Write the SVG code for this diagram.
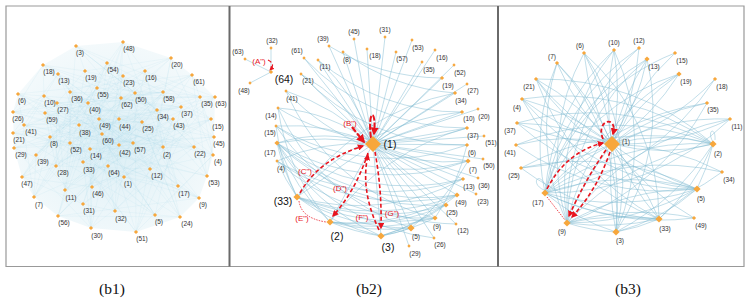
<svg xmlns="http://www.w3.org/2000/svg" width="749" height="301" viewBox="0 0 749 301">
<style>
text{font-family:"Liberation Sans",Arial,sans-serif;font-size:6.5px;fill:#333;text-anchor:middle}
text.big{font-size:10.5px;fill:#111}
text.rl{font-size:8px;fill:#e8141e}
text.cap{font-family:"Liberation Serif","Times New Roman",serif;font-size:15.5px;fill:#111}
use{fill:#f7a73c}
.hz{fill:none;stroke:#9fd0e2;stroke-width:0.4;stroke-opacity:0.28}
.e{fill:none;stroke:#7fbad0;stroke-width:0.8;stroke-opacity:0.6}
.r{fill:none;stroke:#e8141e;stroke-width:1.6;stroke-dasharray:4 2.5}
.rt{fill:none;stroke:#e8141e;stroke-width:0.8;stroke-dasharray:1.5 1.2}
.rk{fill:none;stroke:#e8141e;stroke-width:2.6;stroke-dasharray:6 2}
.fr{fill:none;stroke:#999;stroke-width:1.2}
.sep{stroke:#6a6a6a;stroke-width:2}
</style>
<defs>
<path id="s" d="M0,-2.1l2.1,2.1-2.1,2.1-2.1-2.1z"/>
<path id="xs" d="M0,-1.7l1.7,1.7-1.7,1.7-1.7-1.7z"/>
<path id="m" d="M0,-2.6l2.6,2.6-2.6,2.6-2.6-2.6z"/>
<path id="b" d="M0,-3.6l3.6,3.6-3.6,3.6-3.6-3.6z"/>
<path id="h" d="M0,-8l8,8-8,8-8-8z"/>
<marker id="ar" viewBox="0 0 10 10" refX="8" refY="5" markerWidth="4" markerHeight="4" orient="auto"><path d="M0,0L10,5 0,10z" fill="#e8141e"/></marker>
<radialGradient id="hg" cx="0.5" cy="0.55" r="0.55"><stop offset="0" stop-color="#d6ecf4" stop-opacity="0.9"/><stop offset="1" stop-color="#e8f4f8" stop-opacity="0.5"/></radialGradient>
</defs>
<rect width="749" height="301" fill="#fff"/>
<g id="frame">
<path class="fr" d="M6,6H744V266.5H6Z"/>
<path class="sep" d="M229.5,6V266.5M498,6V266.5"/>
</g>

<!-- b1 -->
<g id="b1-edges">
<polygon points="76,46 123,42 171,58 192,75 215,97 214,137 213,155 207,176 199,198 180,217 136,232 91,228 58,216 34,197 22,177 14,148 13,112 18,94 43,65" fill="url(#hg)"/>
<polyline class="hz" points="124,177 163,147 76,46 213,155 155,215 18,94 34,197 50,137 199,198 44,96 65,190 150,169 58,74 90,149 211,119 145,71 178,186 43,65 85,71 171,58 13,133 194,147 123,76 180,217 142,122 13,112 57,103 56,166 14,148 91,228 83,204 115,211 83,162 157,110 200,97 70,92 181,107 79,125 36,155 88,103 24,125 119,145 173,119 119,119 214,137 92,187 22,177 123,42 99,119 135,93 136,232 70,143 207,176 107,63 97,88 58,216 133,143 163,92 45,113 102,134 192,75 121,98 215,97 108,166"/>
<polyline class="hz" points="124,177 83,162 163,147 157,110 76,46 200,97 213,155 70,92 155,215 181,107 18,94 79,125 34,197 36,155 50,137 88,103 199,198 24,125 44,96 119,145 65,190 173,119 150,169 119,119 58,74 214,137 90,149 92,187 211,119 22,177 145,71 123,42 178,186 99,119 43,65 135,93 85,71 136,232 171,58 70,143 13,133 207,176 194,147 107,63 123,76 97,88 180,217 58,216 142,122 133,143 13,112 163,92 57,103 45,113 56,166 102,134 14,148 192,75 91,228 121,98 83,204 215,97 115,211 108,166"/>
<polyline class="hz" points="124,177 178,186 83,162 99,119 163,147 43,65 157,110 135,93 76,46 85,71 200,97 136,232 213,155 171,58 70,92 70,143 155,215 13,133 181,107 207,176 18,94 194,147 79,125 107,63 34,197 123,76 36,155 97,88 50,137 180,217 88,103 58,216 199,198 142,122 24,125 133,143 44,96 13,112 119,145 163,92 65,190 57,103 173,119 45,113 150,169 56,166 119,119 102,134 58,74 14,148 214,137 192,75 90,149 91,228 92,187 121,98 211,119 83,204 22,177 215,97 145,71 115,211 123,42 108,166"/>
<polyline class="hz" points="124,177 199,198 178,186 142,122 83,162 24,125 99,119 133,143 163,147 44,96 43,65 13,112 157,110 119,145 135,93 163,92 76,46 65,190 85,71 57,103 200,97 173,119 136,232 45,113 213,155 150,169 171,58 56,166 70,92 119,119 70,143 102,134 155,215 58,74 13,133 14,148 181,107 214,137 207,176 192,75 18,94 90,149 194,147 91,228 79,125 92,187 107,63 121,98 34,197 211,119 123,76 83,204 36,155 22,177 97,88 215,97 50,137 145,71 180,217 115,211 88,103 123,42 58,216 108,166"/>
</g>
<g id="b1-nodes">
<g id="b1-n1"><use href="#s" x="124" y="177"/><text x="128" y="186.3">(1)</text></g>
<g id="b1-n2"><use href="#s" x="163" y="147"/><text x="167" y="157.3">(2)</text></g>
<g id="b1-n3"><use href="#s" x="76" y="46"/><text x="80" y="55.3">(3)</text></g>
<g id="b1-n4"><use href="#s" x="213" y="155"/><text x="218" y="164.3">(4)</text></g>
<g id="b1-n5"><use href="#s" x="155" y="215"/><text x="159" y="224.3">(5)</text></g>
<g id="b1-n6"><use href="#s" x="18" y="94"/><text x="22" y="103.3">(6)</text></g>
<g id="b1-n7"><use href="#s" x="34" y="197"/><text x="39" y="207.3">(7)</text></g>
<g id="b1-n8"><use href="#s" x="50" y="137"/><text x="54" y="146.3">(8)</text></g>
<g id="b1-n9"><use href="#s" x="199" y="198"/><text x="203" y="207.3">(9)</text></g>
<g id="b1-n10"><use href="#s" x="44" y="96"/><text x="50" y="105.3">(10)</text></g>
<g id="b1-n11"><use href="#s" x="65" y="190"/><text x="71" y="200.3">(11)</text></g>
<g id="b1-n12"><use href="#s" x="150" y="169"/><text x="157" y="178.3">(12)</text></g>
<g id="b1-n13"><use href="#s" x="58" y="74"/><text x="64" y="83.3">(13)</text></g>
<g id="b1-n14"><use href="#s" x="90" y="149"/><text x="96" y="158.3">(14)</text></g>
<g id="b1-n15"><use href="#s" x="211" y="119"/><text x="218" y="129.3">(15)</text></g>
<g id="b1-n16"><use href="#s" x="145" y="71"/><text x="151" y="80.3">(16)</text></g>
<g id="b1-n17"><use href="#s" x="178" y="186"/><text x="184" y="196.3">(17)</text></g>
<g id="b1-n18"><use href="#s" x="43" y="65"/><text x="49" y="74.3">(18)</text></g>
<g id="b1-n19"><use href="#s" x="85" y="71"/><text x="91" y="80.3">(19)</text></g>
<g id="b1-n20"><use href="#s" x="171" y="58"/><text x="177" y="67.3">(20)</text></g>
<g id="b1-n21"><use href="#s" x="13" y="133"/><text x="19" y="142.3">(21)</text></g>
<g id="b1-n22"><use href="#s" x="194" y="147"/><text x="200" y="156.3">(22)</text></g>
<g id="b1-n23"><use href="#s" x="123" y="76"/><text x="129" y="85.3">(23)</text></g>
<g id="b1-n24"><use href="#s" x="180" y="217"/><text x="187" y="226.3">(24)</text></g>
<g id="b1-n25"><use href="#s" x="142" y="122"/><text x="148" y="131.3">(25)</text></g>
<g id="b1-n26"><use href="#s" x="13" y="112"/><text x="18" y="121.3">(26)</text></g>
<g id="b1-n27"><use href="#s" x="57" y="103"/><text x="63" y="112.3">(27)</text></g>
<g id="b1-n28"><use href="#s" x="56" y="166"/><text x="63" y="175.3">(28)</text></g>
<g id="b1-n29"><use href="#s" x="14" y="148"/><text x="21" y="157.3">(29)</text></g>
<g id="b1-n30"><use href="#s" x="91" y="228"/><text x="97" y="238.3">(30)</text></g>
<g id="b1-n31"><use href="#s" x="83" y="204"/><text x="89" y="213.3">(31)</text></g>
<g id="b1-n32"><use href="#s" x="115" y="211"/><text x="121" y="221.3">(32)</text></g>
<g id="b1-n33"><use href="#s" x="83" y="162"/><text x="89" y="172.3">(33)</text></g>
<g id="b1-n34"><use href="#s" x="157" y="110"/><text x="163" y="119.3">(34)</text></g>
<g id="b1-n35"><use href="#s" x="200" y="97"/><text x="207" y="106.3">(35)</text></g>
<g id="b1-n36"><use href="#s" x="70" y="92"/><text x="77" y="101.3">(36)</text></g>
<g id="b1-n37"><use href="#s" x="181" y="107"/><text x="187" y="116.3">(37)</text></g>
<g id="b1-n38"><use href="#s" x="79" y="125"/><text x="85" y="135.3">(38)</text></g>
<g id="b1-n39"><use href="#s" x="36" y="155"/><text x="43" y="164.3">(39)</text></g>
<g id="b1-n40"><use href="#s" x="88" y="103"/><text x="95" y="112.3">(40)</text></g>
<g id="b1-n41"><use href="#s" x="24" y="125"/><text x="31" y="134.3">(41)</text></g>
<g id="b1-n42"><use href="#s" x="119" y="145"/><text x="125" y="155.3">(42)</text></g>
<g id="b1-n43"><use href="#s" x="173" y="119"/><text x="179" y="128.3">(43)</text></g>
<g id="b1-n44"><use href="#s" x="119" y="119"/><text x="125" y="129.3">(44)</text></g>
<g id="b1-n45"><use href="#s" x="214" y="137"/><text x="219" y="146.3">(45)</text></g>
<g id="b1-n46"><use href="#s" x="92" y="187"/><text x="98" y="196.3">(46)</text></g>
<g id="b1-n47"><use href="#s" x="22" y="177"/><text x="27" y="186.3">(47)</text></g>
<g id="b1-n48"><use href="#s" x="123" y="42"/><text x="129" y="51.3">(48)</text></g>
<g id="b1-n49"><use href="#s" x="99" y="119"/><text x="105" y="128.3">(49)</text></g>
<g id="b1-n50"><use href="#s" x="135" y="93"/><text x="141" y="102.3">(50)</text></g>
<g id="b1-n51"><use href="#s" x="136" y="232"/><text x="142" y="241.3">(51)</text></g>
<g id="b1-n52"><use href="#s" x="70" y="143"/><text x="76" y="152.3">(52)</text></g>
<g id="b1-n53"><use href="#s" x="207" y="176"/><text x="214" y="185.3">(53)</text></g>
<g id="b1-n54"><use href="#s" x="107" y="63"/><text x="113" y="72.3">(54)</text></g>
<g id="b1-n55"><use href="#s" x="97" y="88"/><text x="103" y="97.3">(55)</text></g>
<g id="b1-n56"><use href="#s" x="58" y="216"/><text x="64" y="225.3">(56)</text></g>
<g id="b1-n57"><use href="#s" x="133" y="143"/><text x="140" y="152.3">(57)</text></g>
<g id="b1-n58"><use href="#s" x="163" y="92"/><text x="169" y="101.3">(58)</text></g>
<g id="b1-n59"><use href="#s" x="45" y="113"/><text x="52" y="122.3">(59)</text></g>
<g id="b1-n60"><use href="#s" x="102" y="134"/><text x="108" y="143.3">(60)</text></g>
<g id="b1-n61"><use href="#s" x="192" y="75"/><text x="199" y="84.3">(61)</text></g>
<g id="b1-n62"><use href="#s" x="121" y="98"/><text x="127" y="107.3">(62)</text></g>
<g id="b1-n63"><use href="#s" x="215" y="97"/><text x="221" y="106.3">(63)</text></g>
<g id="b1-n64"><use href="#s" x="108" y="166"/><text x="114" y="175.3">(64)</text></g>
</g>

<!-- b2 -->
<g id="b2-edges">
<path class="e" d="M271,72L245,59M271,72L271,48M271,72L250,83"/>
<path class="e" d="M373,144L304,58M373,144L329,46M373,144L354,39M373,144L318,60M373,144L343,52M373,144L301,74M373,144L367,49M373,144L385,37M373,144L396,52M373,144L412,40M373,144L422,62M373,144L435,50M373,144L442,78M373,144L454,65M373,144L467,84M373,144L455,93M373,144L478,109M373,144L462,112M373,144L467,128M373,144L484,136M373,144L467,145M373,144L483,159M373,144L468,161M373,144L463,179M373,144L478,178M373,144L457,195M373,144L476,194M373,144L446,205M373,144L435,218M373,144L456,224M373,144L411,228M373,144L434,238M373,144L409,246M373,144L381,236M373,144L330,222M373,144L297,197"/>
<path class="e" d="M373,144A220,220 0 0 0 286,91M373,144A180,180 0 0 0 278,108M373,144A200,200 0 0 0 276,126M373,144A160,160 0 0 0 277,143M373,144A260,260 0 0 0 277,143M373,144A200,200 0 0 0 277,161M373,144A200,200 0 0 0 301,74M373,144A200,200 0 0 0 318,60"/>
<path class="e" d="M278,108A220,220 0 0 0 467,128M276,126A220,220 0 0 0 467,145M276,126A220,220 0 0 0 468,161M277,143A220,220 0 0 0 468,161M277,143A220,220 0 0 0 463,179M277,143A220,220 0 0 0 457,195M277,143A220,220 0 0 0 446,205M277,161A220,220 0 0 0 463,179M277,161A220,220 0 0 0 457,195M277,161A220,220 0 0 0 435,218M297,197A220,220 0 0 0 446,205M297,197A220,220 0 0 0 435,218M297,197A220,220 0 0 0 411,228M297,197A220,220 0 0 0 457,195M297,197A220,220 0 0 0 463,179M297,197A220,220 0 0 0 381,236M330,222A220,220 0 0 0 435,218M330,222A220,220 0 0 0 411,228M330,222A220,220 0 0 0 446,205M330,222A220,220 0 0 0 457,195M330,222A220,220 0 0 0 381,236M381,236A220,220 0 0 0 411,228M381,236A220,220 0 0 0 435,218M381,236A220,220 0 0 0 446,205M381,236A220,220 0 0 0 457,195M277,143A220,220 0 0 0 381,236M277,143A220,220 0 0 0 330,222M277,143A220,220 0 0 0 297,197M277,161A220,220 0 0 0 297,197M276,126A220,220 0 0 0 297,197M278,108A220,220 0 0 0 330,222M286,91A220,220 0 0 0 468,161M301,74A220,220 0 0 0 467,145M304,58A220,220 0 0 0 467,128M318,60A220,220 0 0 0 462,112M343,52A220,220 0 0 0 455,93M329,46A220,220 0 0 0 442,78M411,228A220,220 0 0 0 468,161M435,218A220,220 0 0 0 467,145M297,197A250,250 0 0 1 462,112M330,222A250,250 0 0 1 467,128M297,197A250,250 0 0 1 455,93M278,108A220,220 0 0 0 411,228M286,91A220,220 0 0 0 435,218M276,126A220,220 0 0 0 456,224M277,143A220,220 0 0 0 434,238"/>
<path class="r" marker-end="url(#ar)" d="M300,193Q318,160 363,146"/>
<path class="r" marker-end="url(#ar)" d="M368,153Q356,190 333,216"/>
<path class="rt" d="M299,201Q301,218 326,222"/>
<path class="r" marker-end="url(#ar)" d="M379,230Q360,190 368,155"/>
<path class="r" marker-end="url(#ar)" d="M375,152Q382,190 381,228"/>
<path class="rk" marker-end="url(#ar)" style="stroke-width:2.2" d="M352,127Q359,136 364,142"/>
<path class="rk" marker-end="url(#ar)" style="stroke-width:2" d="M371,138C367,108 377,108 374,134"/>
<path class="r" marker-end="url(#ar)" style="stroke-width:1.2" d="M268,60Q276,64 270,70"/>
</g>
<g id="b2-nodes">
<g id="b2-n63"><use href="#xs" x="245" y="59"/><text x="238" y="54.3">(63)</text></g>
<g id="b2-n32"><use href="#xs" x="271" y="48"/><text x="272" y="43.3">(32)</text></g>
<g id="b2-n48"><use href="#xs" x="250" y="83"/><text x="244" y="93.3">(48)</text></g>
<g id="b2-n64"><use href="#s" x="271" y="72"/><text class="big" x="284" y="82.7">(64)</text></g>
<g id="b2-n61"><use href="#xs" x="304" y="58"/><text x="297" y="53.3">(61)</text></g>
<g id="b2-n39"><use href="#xs" x="329" y="46"/><text x="323" y="41.3">(39)</text></g>
<g id="b2-n45"><use href="#xs" x="354" y="39"/><text x="354" y="34.3">(45)</text></g>
<g id="b2-n11"><use href="#xs" x="318" y="60"/><text x="325" y="69.3">(11)</text></g>
<g id="b2-n8"><use href="#xs" x="343" y="52"/><text x="347" y="62.3">(8)</text></g>
<g id="b2-n21"><use href="#xs" x="301" y="74"/><text x="308" y="83.3">(21)</text></g>
<g id="b2-n41"><use href="#xs" x="286" y="91"/><text x="292" y="101.3">(41)</text></g>
<g id="b2-n14"><use href="#xs" x="278" y="108"/><text x="271" y="118.3">(14)</text></g>
<g id="b2-n15"><use href="#xs" x="276" y="126"/><text x="270" y="135.3">(15)</text></g>
<g id="b2-n17"><use href="#m" x="277" y="143"/><text x="270" y="155.3">(17)</text></g>
<g id="b2-n4"><use href="#xs" x="277" y="161"/><text x="281" y="171.3">(4)</text></g>
<g id="b2-n33"><use href="#b" x="297" y="197"/><text class="big" x="283" y="204.7">(33)</text></g>
<g id="b2-n2"><use href="#b" x="330" y="222"/><text class="big" x="337" y="239.7">(2)</text></g>
<g id="b2-n3"><use href="#b" x="381" y="236"/><text class="big" x="388" y="251">(3)</text></g>
<g id="b2-n1"><use href="#h" x="373" y="144"/><text class="big" x="390" y="147.7">(1)</text></g>
<g id="b2-n31"><use href="#xs" x="385" y="37"/><text x="385" y="32.3">(31)</text></g>
<g id="b2-n18"><use href="#xs" x="367" y="49"/><text x="375" y="58.3">(18)</text></g>
<g id="b2-n53"><use href="#xs" x="412" y="40"/><text x="418" y="50.3">(53)</text></g>
<g id="b2-n57"><use href="#xs" x="396" y="52"/><text x="402" y="61.3">(57)</text></g>
<g id="b2-n16"><use href="#xs" x="435" y="50"/><text x="442" y="60.3">(16)</text></g>
<g id="b2-n35"><use href="#xs" x="422" y="62"/><text x="429" y="72.3">(35)</text></g>
<g id="b2-n52"><use href="#xs" x="454" y="65"/><text x="460" y="75.3">(52)</text></g>
<g id="b2-n19"><use href="#s" x="442" y="78"/><text x="448" y="88.3">(19)</text></g>
<g id="b2-n27"><use href="#xs" x="467" y="84"/><text x="473" y="93.3">(27)</text></g>
<g id="b2-n34"><use href="#s" x="455" y="93"/><text x="461" y="103.3">(34)</text></g>
<g id="b2-n20"><use href="#xs" x="478" y="109"/><text x="484" y="119.3">(20)</text></g>
<g id="b2-n10"><use href="#s" x="462" y="112"/><text x="469" y="121.3">(10)</text></g>
<g id="b2-n37"><use href="#s" x="467" y="128"/><text x="473" y="138.3">(37)</text></g>
<g id="b2-n51"><use href="#xs" x="484" y="136"/><text x="491" y="145.3">(51)</text></g>
<g id="b2-n6"><use href="#s" x="467" y="145"/><text x="472" y="155.3">(6)</text></g>
<g id="b2-n50"><use href="#xs" x="483" y="159"/><text x="489" y="168.3">(50)</text></g>
<g id="b2-n7"><use href="#m" x="468" y="161"/><text x="473" y="172.3">(7)</text></g>
<g id="b2-n13"><use href="#s" x="463" y="179"/><text x="469" y="189.3">(13)</text></g>
<g id="b2-n36"><use href="#xs" x="478" y="178"/><text x="484" y="188.3">(36)</text></g>
<g id="b2-n49"><use href="#m" x="457" y="195"/><text x="461" y="205.3">(49)</text></g>
<g id="b2-n23"><use href="#xs" x="476" y="194"/><text x="483" y="204.3">(23)</text></g>
<g id="b2-n25"><use href="#m" x="446" y="205"/><text x="452" y="215.3">(25)</text></g>
<g id="b2-n9"><use href="#m" x="435" y="218"/><text x="437" y="229.3">(9)</text></g>
<g id="b2-n12"><use href="#xs" x="456" y="224"/><text x="463" y="233.3">(12)</text></g>
<g id="b2-n5"><use href="#b" x="411" y="228"/><text x="416" y="239.3">(5)</text></g>
<g id="b2-n26"><use href="#xs" x="434" y="238"/><text x="440" y="247.3">(26)</text></g>
<g id="b2-n29"><use href="#xs" x="409" y="246"/><text x="415" y="256.3">(29)</text></g>
</g>
<g id="b2-labels">
<text class="rl" x="259" y="64">(A")</text>
<text class="rl" x="350" y="126">(B")</text>
<text class="rl" x="305" y="174">(C")</text>
<text class="rl" x="340" y="191">(D")</text>
<text class="rl" x="302" y="221">(E")</text>
<text class="rl" x="362" y="220">(F")</text>
<text class="rl" x="392" y="216">(G")</text>
</g>

<!-- b3 -->
<g id="b3-edges">
<path class="e" d="M612,144A250,250 0 0 0 584,53M612,144A250,250 0 0 1 584,53M612,144A250,250 0 0 0 614,50M612,144A250,250 0 0 1 614,50M612,144A250,250 0 0 0 557,63M612,144A250,250 0 0 1 557,63M612,144A250,250 0 0 0 536,79M612,144A250,250 0 0 1 536,79M612,144A250,250 0 0 0 522,99M612,144A250,250 0 0 1 522,99M612,144A250,250 0 0 0 517,123M612,144A250,250 0 0 1 517,123M612,144A200,200 0 0 0 516,145M612,144A250,250 0 0 1 521,168M612,144A250,250 0 0 0 639,48M612,144A250,250 0 0 1 647,59M612,144A250,250 0 0 0 647,59M612,144A250,250 0 0 1 675,53M612,144A250,250 0 0 0 679,74M612,144A250,250 0 0 1 679,74M612,144A250,250 0 0 0 715,79M612,144A250,250 0 0 1 707,103M612,144A250,250 0 0 0 730,119M612,144A250,250 0 0 1 730,119M612,144A250,250 0 0 1 722,172M612,144A250,250 0 0 0 694,218"/>
<path class="e" d="M557,63A220,220 0 0 0 567,223M557,63A220,220 0 0 1 616,232M557,63A220,220 0 0 0 545,193M584,53A220,220 0 0 1 616,232M584,53A220,220 0 0 1 659,219M584,53A220,220 0 0 0 567,223M614,50A220,220 0 0 0 567,223M614,50A220,220 0 0 1 616,232M614,50A220,220 0 0 0 545,193M639,48A220,220 0 0 0 545,193M639,48A220,220 0 0 0 567,223M647,59A220,220 0 0 0 545,193M647,59A220,220 0 0 0 567,223M647,59A220,220 0 0 1 616,232M675,53A220,220 0 0 0 545,193M679,74A220,220 0 0 0 545,193M679,74A220,220 0 0 0 567,223M715,79A260,260 0 0 1 545,193M707,103A260,260 0 0 0 545,193M707,103A260,260 0 0 1 567,223M730,119A260,260 0 0 1 545,193M730,119A260,260 0 0 0 567,223"/>
<path class="e" d="M536,79A260,260 0 0 1 713,144M536,79A260,260 0 0 0 697,189M536,79A260,260 0 0 0 659,219M522,99A260,260 0 0 1 713,144M522,99A260,260 0 0 0 697,189M522,99A260,260 0 0 0 659,219M517,123A260,260 0 0 1 713,144M517,123A260,260 0 0 0 697,189M516,145A260,260 0 0 1 713,144M516,145A260,260 0 0 0 697,189M521,168A260,260 0 0 1 713,144M521,168A260,260 0 0 1 697,189M521,168A260,260 0 0 0 659,219"/>
<path class="e" d="M545,193A260,260 0 0 1 713,144M545,193A260,260 0 0 1 697,189M545,193A260,260 0 0 0 697,189M545,193A260,260 0 0 0 659,219M545,193A200,200 0 0 0 616,232M567,223A260,260 0 0 1 713,144M567,223A260,260 0 0 1 697,189M567,223A260,260 0 0 1 659,219M567,223A260,260 0 0 0 659,219M567,223A200,200 0 0 0 616,232M616,232A260,260 0 0 0 713,144M616,232A200,200 0 0 0 697,189M616,232A200,200 0 0 0 659,219M659,219A200,200 0 0 0 713,144M659,219A200,200 0 0 1 697,189M697,189A200,200 0 0 0 713,144M722,172A260,260 0 0 1 567,223M722,172A260,260 0 0 0 545,193M694,218A260,260 0 0 1 545,193M694,218A260,260 0 0 0 567,223"/>
<path class="e" d="M612,144A200,200 0 0 1 713,144M612,144A200,200 0 0 0 713,144M612,144A300,300 0 0 0 697,189M612,144A300,300 0 0 1 659,219M612,144A300,300 0 0 0 659,219M612,144A300,300 0 0 1 616,232M612,144A300,300 0 0 0 616,232M612,144A300,300 0 0 0 545,193M612,144A300,300 0 0 0 567,223M544,190C530,184 538,170 546,186M713,142C706,130 716,126 715,140"/>
<path class="r" marker-end="url(#ar)" style="stroke-width:1.8" d="M603,139C595,120 618,114 613,134"/>
<path class="r" marker-end="url(#ar)" d="M547,189Q566,152 603,143"/>
<path class="r" marker-end="url(#ar)" d="M606,150Q585,180 569,216"/>
<path class="r" marker-end="url(#ar)" d="M610,152Q597,190 572,217"/>
<path class="rt" d="M547,197L565,220"/>
</g>
<g id="b3-nodes">
<g id="b3-n1"><use href="#h" x="612" y="144"/><text x="626" y="144.3">(1)</text></g>
<g id="b3-n6"><use href="#s" x="584" y="53"/><text x="580" y="48.3">(6)</text></g>
<g id="b3-n10"><use href="#s" x="614" y="50"/><text x="614" y="45.3">(10)</text></g>
<g id="b3-n7"><use href="#s" x="557" y="63"/><text x="552" y="59.3">(7)</text></g>
<g id="b3-n21"><use href="#s" x="536" y="79"/><text x="529" y="89.3">(21)</text></g>
<g id="b3-n4"><use href="#s" x="522" y="99"/><text x="517" y="110.3">(4)</text></g>
<g id="b3-n37"><use href="#s" x="517" y="123"/><text x="510" y="133.3">(37)</text></g>
<g id="b3-n41"><use href="#s" x="516" y="145"/><text x="510" y="155.3">(41)</text></g>
<g id="b3-n25"><use href="#s" x="521" y="168"/><text x="514" y="178.3">(25)</text></g>
<g id="b3-n17"><use href="#b" x="545" y="193"/><text x="538" y="205.3">(17)</text></g>
<g id="b3-n9"><use href="#b" x="567" y="223"/><text x="562" y="234.3">(9)</text></g>
<g id="b3-n3"><use href="#b" x="616" y="232"/><text x="620" y="243.3">(3)</text></g>
<g id="b3-n33"><use href="#b" x="659" y="219"/><text x="665" y="231.3">(33)</text></g>
<g id="b3-n49"><use href="#s" x="694" y="218"/><text x="701" y="228.3">(49)</text></g>
<g id="b3-n5"><use href="#b" x="697" y="189"/><text x="701" y="201.3">(5)</text></g>
<g id="b3-n34"><use href="#s" x="722" y="172"/><text x="729" y="182.3">(34)</text></g>
<g id="b3-n2"><use href="#b" x="713" y="144"/><text x="718" y="156.3">(2)</text></g>
<g id="b3-n11"><use href="#s" x="730" y="119"/><text x="737" y="129.3">(11)</text></g>
<g id="b3-n35"><use href="#s" x="707" y="103"/><text x="713" y="112.3">(35)</text></g>
<g id="b3-n18"><use href="#s" x="715" y="79"/><text x="722" y="89.3">(18)</text></g>
<g id="b3-n19"><use href="#m" x="679" y="74"/><text x="686" y="84.3">(19)</text></g>
<g id="b3-n15"><use href="#s" x="675" y="53"/><text x="682" y="63.3">(15)</text></g>
<g id="b3-n13"><use href="#m" x="647" y="59"/><text x="654" y="69.3">(13)</text></g>
<g id="b3-n12"><use href="#s" x="639" y="48"/><text x="639" y="43.3">(12)</text></g>
</g>

<g id="captions">
<text class="cap" x="112" y="293.6">(b1)</text>
<text class="cap" x="369" y="293.6">(b2)</text>
<text class="cap" x="628" y="293.6">(b3)</text>
</g>
</svg>
